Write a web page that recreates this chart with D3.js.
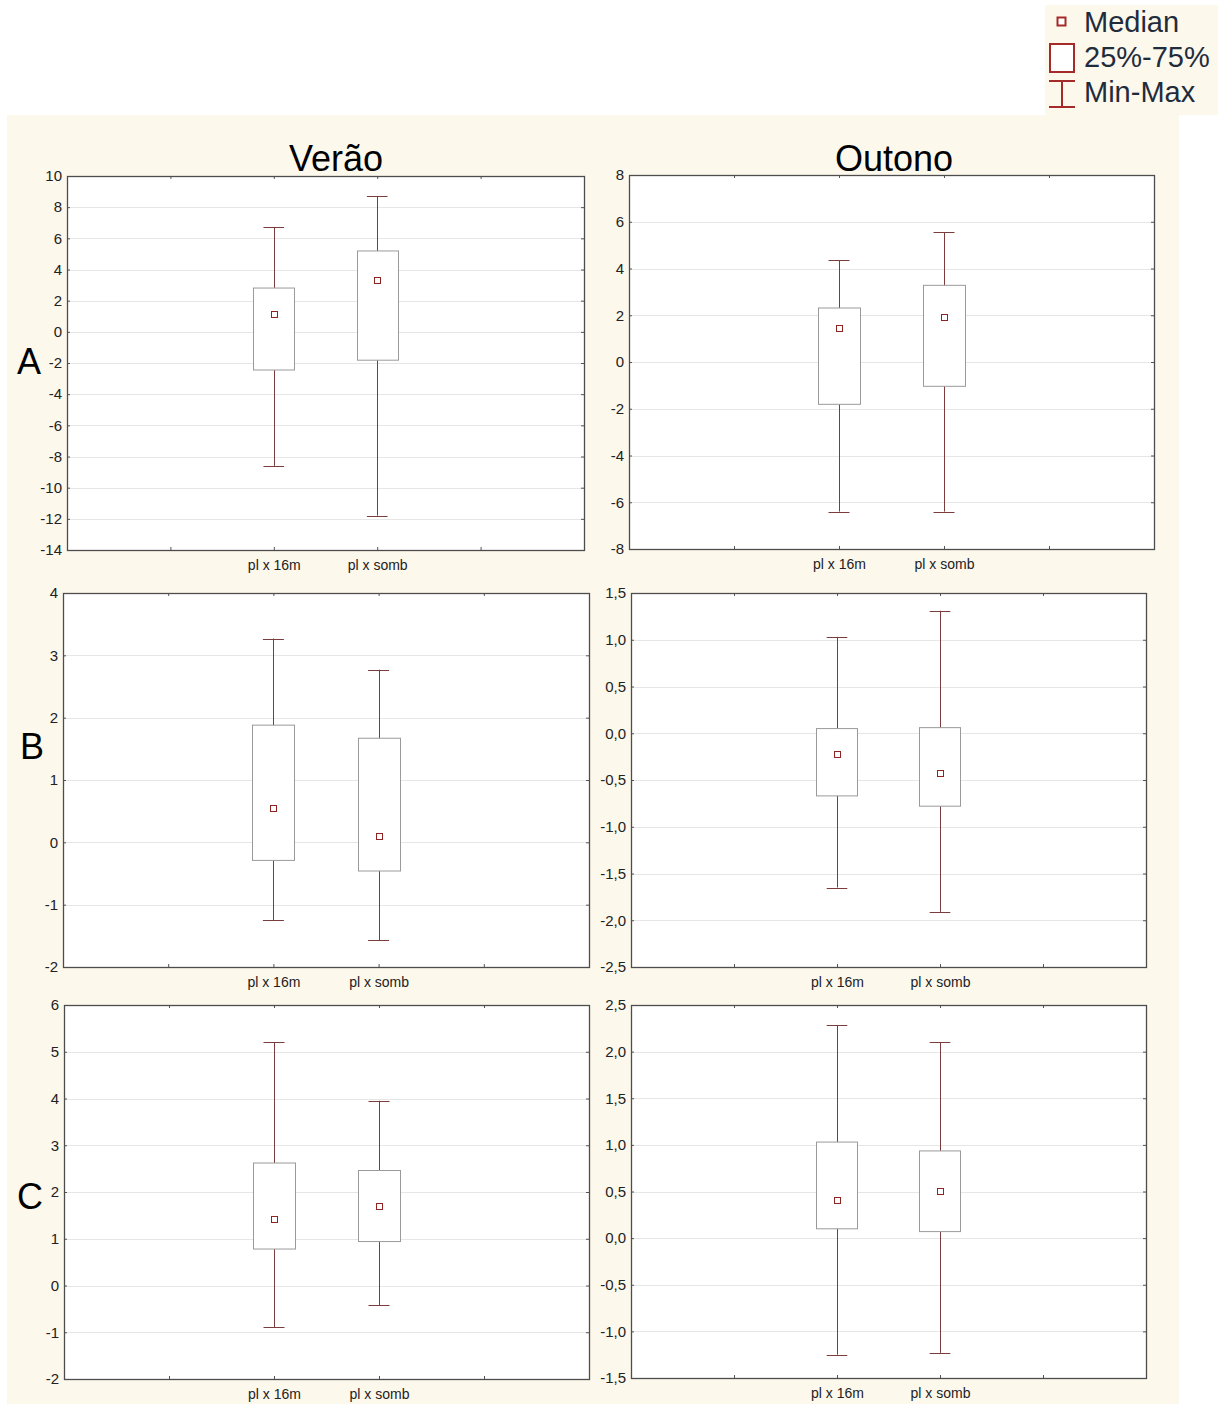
<!DOCTYPE html>
<html>
<head>
<meta charset="utf-8">
<script src="https://cdn.jsdelivr.net/npm/d3@7"></script>
<style>
  body { margin: 0; background: #fff; }
  text { font-family: "Liberation Sans", Arial, sans-serif; }
</style>
</head>
<body>
<div class="chart"></div>
<script>
// panels go A-Verão, A-Outono, B-Verão, B-Outono, C-Verão, C-Outono
var seasons = ["Verão", "Outono"];
var rowLabels = ["A", "B", "C"];
var categories = ["pl x 16m", "pl x somb"];

var yDomains = [[-14, 10], [-8, 8], [-2, 4], [-2.5, 1.5], [-2, 6], [-1.5, 2.5]];
var yTickSteps = [2, 2, 1, 0.5, 1, 0.5];

var minValues    = [[-8.6, -11.8], [-6.4, -6.4], [-1.25, -1.57], [-1.65, -1.91], [-0.89, -0.42], [-1.25, -1.23]];
var q1Values     = [[-2.45, -1.82], [-1.81, -1.04], [-0.29, -0.46], [-0.67, -0.78], [0.78, 0.94], [0.10, 0.07]];
var medianValues = [[1.14, 3.31], [1.47, 1.93], [0.55, 0.10], [-0.225, -0.43], [1.42, 1.70], [0.41, 0.51]];
var q3Values     = [[2.81, 5.19], [2.31, 3.28], [1.88, 1.67], [0.05, 0.06], [2.62, 2.46], [1.03, 0.935]];
var maxValues    = [[6.73, 8.72], [4.36, 5.56], [3.27, 2.77], [1.03, 1.31], [5.20, 3.95], [2.285, 2.10]];

var legendLabels = ["Median", "25%-75%", "Min-Max"];

// plot frames (layout only)
var frames = [
	{l: 67, r: 584, t: 176, b: 550}, {l: 629, r: 1154, t: 175, b: 549},
	{l: 63, r: 589, t: 593, b: 967}, {l: 631, r: 1146, t: 593, b: 967},
	{l: 64, r: 589, t: 1005, b: 1379}, {l: 631, r: 1146, t: 1005, b: 1378}
];

var cream = "#fdf8ec";
var whiskerColor = "#7a3c3c";
var medianColor = "#8e2424";

var locale = d3.formatLocale({decimal: ",", thousands: ".", grouping: [3], currency: ["", ""], minus: "-"});

var svg = d3.select(".chart").append("svg")
	.attr("width", 1224)
	.attr("height", 1404)
	.style("display", "block");

svg.append("rect").attr("width", 1224).attr("height", 1404).attr("fill", "#fff");
svg.append("rect")
	.attr("x", 7).attr("y", 115)
	.attr("width", 1172).attr("height", 1289)
	.attr("fill", cream);

// column titles
var titleCenters = [336, 894];
seasons.forEach(function (s, i) {
	svg.append("text")
		.attr("x", titleCenters[i])
		.attr("y", 171)
		.attr("text-anchor", "middle")
		.attr("font-size", 36)
		.attr("fill", "#000")
		.text(s);
});

// row letters
var rowBaselines = [374, 759, 1209];
rowLabels.forEach(function (r, i) {
	svg.append("text")
		.attr("x", i == 1 ? 20 : 17)
		.attr("y", rowBaselines[i])
		.attr("font-size", 36)
		.attr("fill", "#000")
		.text(r);
});

frames.forEach(function (f, p) {
	var g = svg.append("g");
	var dom = yDomains[p], step = yTickSteps[p];
	var y = d3.scaleLinear().domain(dom).range([f.b, f.t]);
	var x = d3.scaleLinear().domain([0, 5]).range([f.l, f.r]);
	var ticks = d3.range(dom[0], dom[1] + step / 2, step);
	var fmt = step < 1 ? locale.format(".1f") : locale.format("d");

	g.append("rect")
		.attr("x", f.l).attr("y", f.t)
		.attr("width", f.r - f.l).attr("height", f.b - f.t)
		.attr("fill", "#fff");

	// grid
	g.selectAll("line.grid")
		.data(ticks.slice(1, -1))
		.enter().append("line")
		.attr("class", "grid")
		.attr("x1", f.l).attr("x2", f.r)
		.attr("y1", function (d) { return Math.round(y(d)) + 0.5; })
		.attr("y2", function (d) { return Math.round(y(d)) + 0.5; })
		.attr("stroke", "#e6e6e6");

	// axes
	var left = g.append("g")
		.attr("transform", "translate(" + f.l + ",0)")
		.call(d3.axisLeft(y).tickValues(ticks).tickFormat(fmt).tickSize(-3).tickPadding(5));
	left.selectAll("text").attr("font-size", 15).attr("fill", "#222").style("font-family", "Liberation Sans, Arial, sans-serif");

	g.append("g")
		.attr("transform", "translate(" + f.r + ",0)")
		.call(d3.axisRight(y).tickValues(ticks).tickFormat("").tickSize(-3));

	var bottom = g.append("g")
		.attr("transform", "translate(0," + f.b + ")")
		.call(d3.axisBottom(x).tickValues([1, 2, 3, 4]).tickFormat(function (v) { return categories[v - 2] || ""; }).tickSize(-3).tickPadding(10));
	bottom.selectAll("text").attr("font-size", 14).attr("fill", "#222").style("font-family", "Liberation Sans, Arial, sans-serif");

	g.append("g")
		.attr("transform", "translate(0," + f.t + ")")
		.call(d3.axisTop(x).tickValues([1, 2, 3, 4]).tickFormat("").tickSize(-3));

	g.selectAll(".domain").remove();
	g.selectAll(".tick line").attr("stroke", "#555");

	g.append("rect")
		.attr("x", f.l + 0.5).attr("y", f.t + 0.5)
		.attr("width", f.r - f.l).attr("height", f.b - f.t)
		.attr("fill", "none")
		.attr("stroke", "#4d4d4d")
		.attr("stroke-width", 1.3);

	// boxes
	var slot = x(1) - x(0);
	var boxW = slot * 0.4, capW = slot * 0.2;
	var data = categories.map(function (c, i) {
		return {
			cat: c, pos: i + 2,
			min: minValues[p][i], q1: q1Values[p][i], med: medianValues[p][i],
			q3: q3Values[p][i], max: maxValues[p][i]
		};
	});

	var box = g.selectAll("g.box").data(data).enter().append("g").attr("class", "box");

	box.append("line")
		.attr("x1", function (d) { return Math.round(x(d.pos)) + 0.5; })
		.attr("x2", function (d) { return Math.round(x(d.pos)) + 0.5; })
		.attr("y1", function (d) { return y(d.max); })
		.attr("y2", function (d) { return y(d.min); })
		.attr("stroke", whiskerColor);

	box.selectAll("line.cap")
		.data(function (d) { return [d.max, d.min].map(function (v) { return {pos: d.pos, v: v}; }); })
		.enter().append("line")
		.attr("class", "cap")
		.attr("x1", function (d) { return x(d.pos) - capW / 2; })
		.attr("x2", function (d) { return x(d.pos) + capW / 2; })
		.attr("y1", function (d) { return Math.round(y(d.v)) + 0.5; })
		.attr("y2", function (d) { return Math.round(y(d.v)) + 0.5; })
		.attr("stroke", whiskerColor);

	box.append("rect")
		.attr("x", function (d) { return Math.round(x(d.pos) - boxW / 2) + 0.5; })
		.attr("y", function (d) { return y(d.q3); })
		.attr("width", Math.round(boxW))
		.attr("height", function (d) { return y(d.q1) - y(d.q3); })
		.attr("fill", "#fff")
		.attr("stroke", "#9a9a9a");

	box.append("rect")
		.attr("x", function (d) { return Math.round(x(d.pos)) - 2.5; })
		.attr("y", function (d) { return Math.round(y(d.med)) - 2.5; })
		.attr("width", 6)
		.attr("height", 6)
		.attr("fill", "#fff")
		.attr("stroke", medianColor);
});

// legend
var lg = svg.append("g");
lg.append("rect").attr("x", 1045).attr("y", 5).attr("width", 173).attr("height", 110).attr("fill", cream);
lg.append("rect").attr("x", 1057.5).attr("y", 17.5).attr("width", 8).attr("height", 8)
	.attr("fill", "#fff").attr("stroke", "#a52a2a").attr("stroke-width", 2);
lg.append("rect").attr("x", 1050).attr("y", 44).attr("width", 24).attr("height", 28)
	.attr("fill", "#fff").attr("stroke", "#a52a2a").attr("stroke-width", 2);
lg.append("line").attr("x1", 1062).attr("x2", 1062).attr("y1", 81).attr("y2", 107)
	.attr("stroke", "#a52a2a").attr("stroke-width", 2);
[81, 107].forEach(function (yy) {
	lg.append("line").attr("x1", 1049).attr("x2", 1075).attr("y1", yy).attr("y2", yy)
		.attr("stroke", "#a52a2a").attr("stroke-width", 2);
});
lg.selectAll("text.leg")
	.data(legendLabels)
	.enter().append("text")
	.attr("class", "leg")
	.attr("x", 1084)
	.attr("y", function (d, i) { return 32 + i * 35; })
	.attr("font-size", 29)
	.attr("fill", "#1f2c3c")
	.text(function (d) { return d; });
</script>
</body>
</html>
